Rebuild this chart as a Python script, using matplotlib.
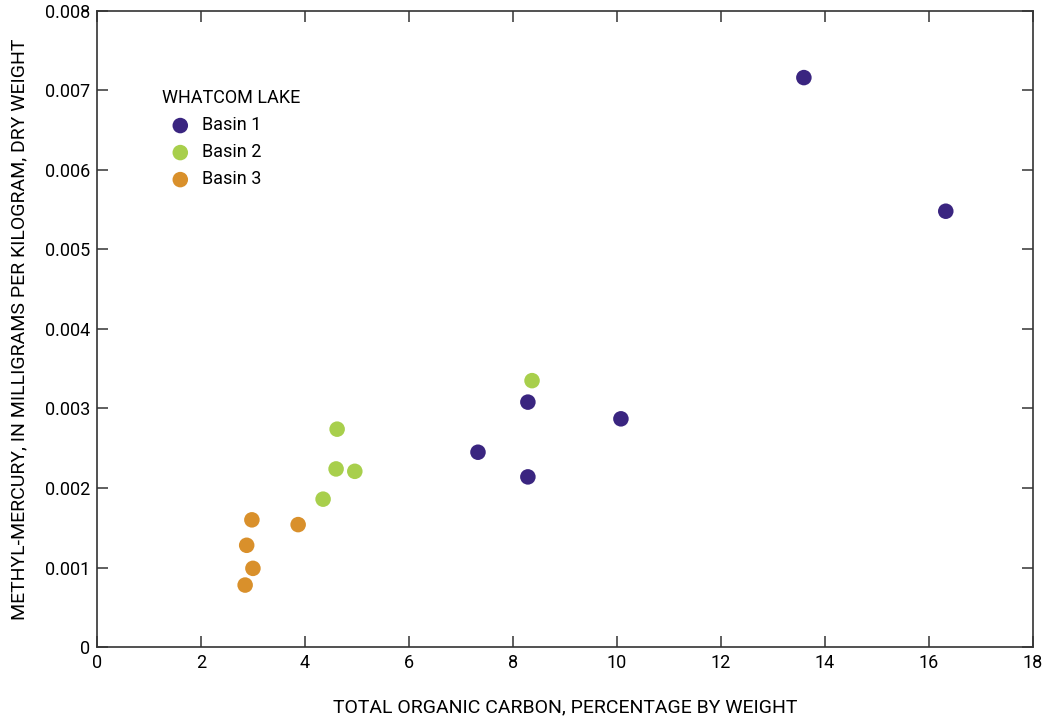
import numpy as np
import matplotlib.pyplot as plt
from matplotlib.ticker import FuncFormatter

# Whatcom Lake sediment data
basin1_toc = [13.6, 16.33, 8.29, 10.08, 7.33, 8.29]
basin1_mehg = [0.00716, 0.00548, 0.00308, 0.00287, 0.00245, 0.00214]
basin2_toc = [8.37, 4.62, 4.60, 4.96, 4.35]
basin2_mehg = [0.00335, 0.00274, 0.00224, 0.00221, 0.00186]
basin3_toc = [2.98, 3.87, 2.88, 3.00, 2.85]
basin3_mehg = [0.00160, 0.00154, 0.00128, 0.00099, 0.00078]

series = [
    ('Basin 1', basin1_toc, basin1_mehg, '#3a2580'),
    ('Basin 2', basin2_toc, basin2_mehg, '#a8cf4c'),
    ('Basin 3', basin3_toc, basin3_mehg, '#d9902b'),
]

plt.rcParams['font.family'] = ['Roboto', 'DejaVu Sans']
plt.rcParams['font.size'] = 13

fig = plt.figure(figsize=(10.43, 7.19), dpi=100)
ax = fig.add_axes([0.093, 0.100, 0.897, 0.885])

for name, xs, ys, col in series:
    ax.scatter(xs, ys, s=125, color=col, edgecolors='none', label=name, zorder=3)

ax.set_xlim(0, 18)
ax.set_ylim(0, 0.008)
ax.set_xticks(np.arange(0, 19, 2))
ax.set_yticks(np.arange(0, 0.0081, 0.001))
ax.yaxis.set_major_formatter(FuncFormatter(lambda v, p: '0' if v == 0 else '{:.3f}'.format(v)))
ax.tick_params(direction='in', length=8, width=1.2, top=True, right=True,
               labelsize=13, color='#444444', pad=5)
for sp in ax.spines.values():
    sp.set_linewidth(1.2)
    sp.set_color('#333333')

ax.set_xlabel('TOTAL ORGANIC CARBON, PERCENTAGE BY WEIGHT', fontsize=14, labelpad=19)
ax.set_ylabel('METHYL-MERCURY, IN MILLIGRAMS PER KILOGRAM, DRY WEIGHT', fontsize=14, labelpad=12)

leg = ax.legend(title='WHATCOM LAKE', loc='upper left', bbox_to_anchor=(0.062, 0.888),
                frameon=False, fontsize=13, title_fontsize=13, handletextpad=0.2,
                labelspacing=0.5, alignment='left', borderaxespad=0)
plt.savefig('out.png', dpi=100)
